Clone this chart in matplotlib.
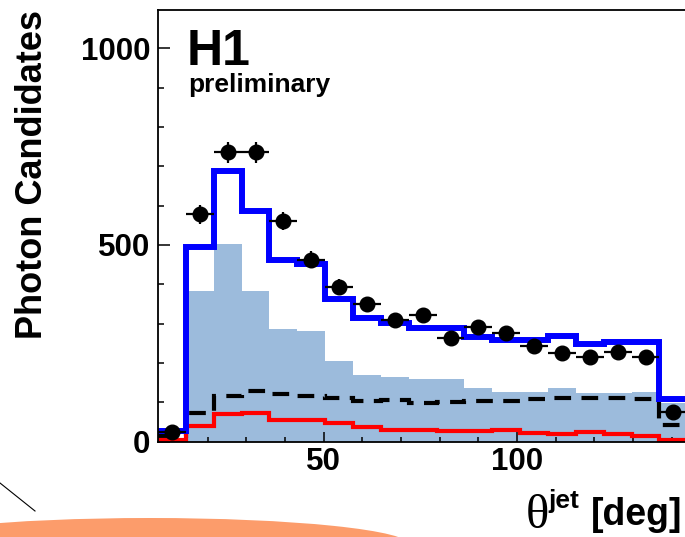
import matplotlib
matplotlib.use("Agg")
import matplotlib.pyplot as plt
import numpy as np
from matplotlib.patches import Ellipse
from matplotlib.lines import Line2D
from matplotlib.ticker import MultipleLocator, FixedLocator

# theta^jet binning (degrees)
theta_edges = [7.2, 14.4, 21.6, 28.8, 36.0, 43.2, 50.4, 57.6, 64.8, 72.0,
               79.2, 86.4, 93.6, 100.8, 108.0, 115.2, 122.4, 129.6, 136.8, 144.0]

# measured photon candidates
data_counts = [24, 578, 735, 735, 561, 462, 394, 349, 308, 322,
               263, 292, 275, 244, 225, 216, 229, 214, 76]

# total prediction (blue line)
total_pred = [28, 496, 689, 585, 462, 451, 363, 314, 302, 288,
              288, 265, 258, 258, 268, 248, 254, 253, 108]

# shaded component
shaded_pred = [5, 383, 503, 383, 286, 281, 206, 170, 165, 160,
               160, 136, 127, 127, 136, 123, 123, 126, 98]

# dashed component
dashed_pred = [15, 74, 117, 129, 121, 115, 112, 104, 106, 99,
               102, 104, 103, 108, 110, 110, 112, 108, 43]

# red component
red_pred = [5, 41, 70, 72, 55, 55, 48, 38, 31, 31,
            27, 26, 29, 23, 19, 24, 19, 14, 5]

W, H = 685, 537
fig = plt.figure(figsize=(W / 100, H / 100), dpi=100)

ax_left, ax_right, ax_top, ax_bottom = 158, 685, 10, 441.7
ax = fig.add_axes([ax_left / W, 1 - ax_bottom / H,
                   (ax_right - ax_left) / W, (ax_bottom - ax_top) / H])

edges = np.array(theta_edges)
centers = 0.5 * (edges[:-1] + edges[1:])
half_w = 0.5 * np.diff(edges)

ax.stairs(shaded_pred, edges, fill=True, color="#9cbbdc", zorder=1)
ax.stairs(dashed_pred, edges, baseline=None, color="black", lw=3.0,
          linestyle=(0, (4, 2.5)), zorder=2)
ax.stairs(red_pred, edges, baseline=None, color="#ff0000", lw=3.0, zorder=3)
ax.stairs(total_pred, edges, baseline=None, color="#0000ff", lw=4.3, zorder=4)

counts = np.array(data_counts, dtype=float)
ax.errorbar(centers, counts, xerr=half_w, yerr=np.sqrt(counts),
            fmt="o", color="black", ms=10.5, elinewidth=1.6, capsize=0,
            zorder=6, clip_on=True)

ax.set_xlim(7.2, 143.4)
ax.set_ylim(0, 1097)

ax.xaxis.set_major_locator(FixedLocator([50, 100]))
ax.xaxis.set_minor_locator(MultipleLocator(10))
ax.yaxis.set_major_locator(FixedLocator([0, 500, 1000]))
ax.yaxis.set_minor_locator(MultipleLocator(100))

ax.spines["right"].set_visible(False)
for s in ("left", "top", "bottom"):
    ax.spines[s].set_linewidth(1.3)
    ax.spines[s].set_zorder(7)

ax.tick_params(axis="y", which="major", direction="in", length=8.5, width=1.1, pad=5.5)
ax.tick_params(axis="y", which="minor", direction="in", length=4.5, width=1.1)
ax.tick_params(axis="x", which="major", direction="in", length=7, width=1.1, pad=4)
ax.tick_params(axis="x", which="minor", direction="in", length=3.8, width=1.1)

tick_font = dict(family="Liberation Sans", weight="bold", size=22.5)
ax.set_xticklabels(["50", "100"], fontdict=tick_font)
ax.set_yticklabels(["0", "500", "1000"], fontdict=tick_font)

# y-axis title
fig.text(32.5 / W, 1 - 175 / H, "Photon Candidates", rotation=90,
         ha="center", va="center", family="Liberation Sans",
         weight="bold", size=26)

# H1 preliminary label
fig.text(187 / W, 1 - 65 / H, "H1", ha="left", va="baseline",
         family="Liberation Sans", weight="bold", size=36)
fig.text(188 / W, 1 - 92 / H, "preliminary", ha="left", va="baseline",
         family="Liberation Sans", weight="bold", size=19)

# x-axis title
fig.text(526 / W, 1 - 528 / H, "\u03b8", ha="left", va="baseline",
         family="Liberation Serif", size=35)
fig.text(548 / W, 1 - 508 / H, "jet", ha="left", va="baseline",
         family="Liberation Sans", weight="bold", size=19)
fig.text(591 / W, 1 - 525 / H, "[deg]", ha="left", va="baseline",
         family="Liberation Sans", weight="bold", size=27)

# decoration below the plot
fig.patches.append(Ellipse((150 / W, -8 / H), 520 / W, 54 / H,
                           transform=fig.transFigure,
                           facecolor="#fc9c6b", edgecolor="none"))
fig.add_artist(Line2D([0, 35 / W], [1 - 483 / H, 1 - 511 / H],
                      transform=fig.transFigure, color="black", lw=0.8))

fig.savefig("out.png", dpi=100)
